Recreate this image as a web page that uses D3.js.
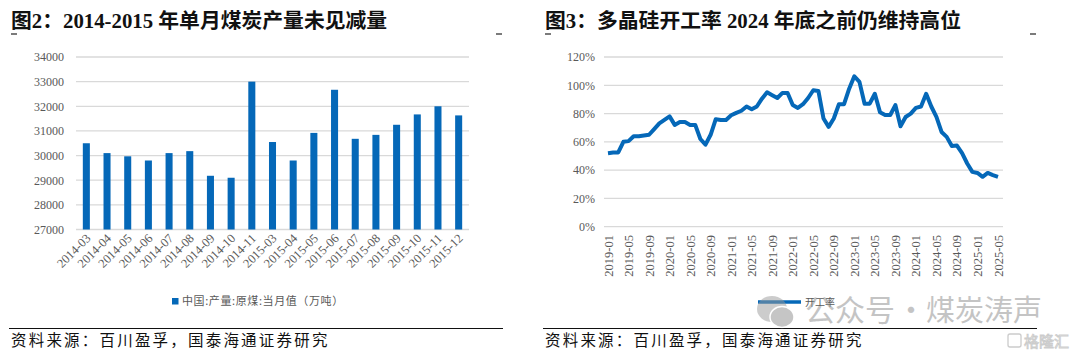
<!DOCTYPE html>
<html><head><meta charset="utf-8">
<script src="https://cdn.jsdelivr.net/npm/d3@7/dist/d3.min.js"></script>
<style>
body{margin:0;background:#fff;}
svg{display:block;}
</style></head>
<body>
<svg id="c" width="1080" height="355"></svg>
<script>
// ---- Data: left chart (coal output, 万吨) ----
const coalMonths = ["2014-03","2014-04","2014-05","2014-06","2014-07","2014-08","2014-09","2014-10","2014-11","2015-03","2015-04","2015-05","2015-06","2015-07","2015-08","2015-09","2015-10","2015-11","2015-12"];
const coalOutput = [30500,30100,29970,29800,30100,30180,29180,29100,33000,30550,29800,30920,32670,30680,30840,31250,31670,32000,31630];
const coalTicks = [27000,28000,29000,30000,31000,32000,33000,34000];

// ---- Data: right chart (polysilicon operating rate, %) ----
const siStart = [2019, 1];
const siRate = [52,52.5,52.5,60,60.5,64,64,64.5,65,69,73,75.5,78,72,74,74,72,72,62,58,65,76,75.5,75.5,78.8,80.5,82,85,83,85,90.5,95,93,91,94.6,94.6,86,84,86.6,91,96.5,96,76.5,70.6,76.5,86.6,86.6,97.6,106.4,102.4,87,87,94,81,79,79,86,71,77.6,80,84,85,94,85,77.6,67,63.5,57,57.4,52,44.7,38.8,38,35.3,38,36.5,35.3];
const siTicks = [0,0.2,0.4,0.6,0.8,1.0,1.2];

const blue = "#0568B8";
const grid = "#d9d9d9";
const tickGray = "#595959";
const serif = "'Liberation Serif','Times New Roman',serif";
const cjk = "'Liberation Serif','Noto Sans CJK SC',serif";
const sans = "'Noto Sans CJK SC',sans-serif";

const svg = d3.select("#c");

const siMonths = siRate.map((v,i)=>{
  const m = siStart[1]-1+i;
  const y = siStart[0]+Math.floor(m/12);
  const mm = (m%12)+1;
  return y+"-"+String(mm).padStart(2,"0");
});

function frame(x0, x1, title){
  svg.append("text").attr("x",x0+2).attr("y",28)
    .attr("font-family",cjk).attr("font-weight","bold").attr("font-size",20.8)
    .attr("fill","#111").text(title);
  svg.append("line").attr("x1",x0+2).attr("x2",x0+8).attr("y1",34).attr("y2",34).attr("stroke","#222").attr("stroke-width",1.2);
  svg.append("line").attr("x1",x1-7).attr("x2",x1-1).attr("y1",34).attr("y2",34).attr("stroke","#222").attr("stroke-width",1.2);
  svg.append("line").attr("x1",x0).attr("x2",x1).attr("y1",328.5).attr("y2",328.5).attr("stroke","#111").attr("stroke-width",1.2);
  svg.append("text").attr("x",x0+2).attr("y",346)
    .attr("font-family",sans).attr("font-size",15.5).attr("letter-spacing",2.2)
    .attr("fill","#111").text("资料来源：百川盈孚，国泰海通证券研究");
}

// ---------- Left chart ----------
frame(9, 503, "图2：2014-2015 年单月煤炭产量未见减量");
const xL = d3.scaleBand().domain(coalMonths).range([76,469]).paddingInner(0.66).paddingOuter(0.33);
const yL = d3.scaleLinear().domain([27000,34000]).range([229.5,57]);
const gL = svg.append("g");
gL.append("g").selectAll("line").data(coalTicks).join("line")
  .attr("x1",76).attr("x2",469).attr("y1",d=>yL(d)).attr("y2",d=>yL(d))
  .attr("stroke",grid).attr("stroke-width",1.3);
gL.append("g").selectAll("rect").data(coalOutput).join("rect")
  .attr("x",(d,i)=>xL(coalMonths[i])).attr("width",xL.bandwidth())
  .attr("y",d=>yL(d)).attr("height",d=>yL(27000)-yL(d)).attr("fill",blue);
const axL = gL.append("g").attr("transform","translate(64,0)")
  .call(d3.axisLeft(yL).tickValues(coalTicks).tickSize(0).tickPadding(0).tickFormat(d3.format("d")));
axL.select(".domain").remove();
axL.selectAll("text").attr("font-family",serif).attr("font-size",12).attr("fill",tickGray);
gL.append("g").selectAll("text").data(coalMonths).join("text")
  .attr("transform",d=>`translate(${xL(d)+xL.bandwidth()/2+5},${239}) rotate(-45)`)
  .attr("text-anchor","end").attr("font-family",serif).attr("font-size",12.5).attr("fill",tickGray)
  .text(d=>d);
gL.append("rect").attr("x",172).attr("y",298).attr("width",6.5).attr("height",6.5).attr("fill",blue);
gL.append("text").attr("x",182).attr("y",305).attr("font-family",sans)
  .attr("font-size",11).attr("letter-spacing",0.6).attr("fill",tickGray).text("中国:产量:原煤:当月值（万吨）");

// ---------- Right chart ----------
frame(543, 1037, "图3：多晶硅开工率 2024 年底之前仍维持高位");
const xR = d3.scalePoint().domain(siMonths).range([608,998]);
const yR = d3.scaleLinear().domain([0,1.2]).range([226.7,57]);
const gR = svg.append("g");
gR.append("g").selectAll("line").data(siTicks).join("line")
  .attr("x1",604).attr("x2",1003).attr("y1",d=>yR(d)).attr("y2",d=>yR(d))
  .attr("stroke",grid).attr("stroke-width",1.3);
const axR = gR.append("g").attr("transform","translate(595,0)")
  .call(d3.axisLeft(yR).tickValues(siTicks).tickSize(0).tickPadding(0).tickFormat(d3.format(".0%")));
axR.select(".domain").remove();
axR.selectAll("text").attr("font-family",serif).attr("font-size",12).attr("fill",tickGray);
const siLabelMonths = siMonths.filter((d,i)=>i%4===0);
gR.append("g").selectAll("text").data(siLabelMonths).join("text")
  .attr("transform",d=>`translate(${xR(d)+4.5},${235}) rotate(-90)`)
  .attr("text-anchor","end").attr("font-family",serif).attr("font-size",12.5).attr("fill",tickGray)
  .text(d=>d);
gR.append("path").datum(siRate)
  .attr("d",d3.line().x((d,i)=>xR(siMonths[i])).y(d=>yR(d/100)))
  .attr("fill","none").attr("stroke",blue).attr("stroke-width",4).attr("stroke-linejoin","round");

gR.append("line").attr("x1",758).attr("x2",801).attr("y1",302).attr("y2",302).attr("stroke",blue).attr("stroke-width",3.6);
gR.append("text").attr("x",805).attr("y",306).attr("font-family",sans)
  .attr("font-size",10).attr("fill",tickGray).text("开工率");

// watermark
const wm = svg.append("g").attr("opacity",0.5);
wm.append("ellipse").attr("cx",772).attr("cy",309).attr("rx",15).attr("ry",13).attr("fill","#9a9a9a");
wm.append("ellipse").attr("cx",782).attr("cy",317).attr("rx",12).attr("ry",10.5).attr("fill","#8c8c8c").attr("stroke","#fff").attr("stroke-width",1.5);
wm.append("text").attr("x",805).attr("y",321).attr("font-family",sans).attr("font-size",30).attr("fill","#8a8a8a").text("公众号");
wm.append("text").attr("x",911).attr("y",321).attr("text-anchor","middle").attr("font-family",sans).attr("font-size",30).attr("fill","#8a8a8a").text("·");
wm.append("text").attr("x",926).attr("y",321).attr("font-family",sans).attr("font-size",29).attr("fill","#8a8a8a").text("煤炭涛声");
wm.append("rect").attr("x",1008).attr("y",334).attr("width",13).attr("height",13).attr("rx",2).attr("fill","none").attr("stroke","#9a9a9a").attr("stroke-width",1.3);
wm.append("text").attr("x",1024).attr("y",347).attr("font-family",sans)
  .attr("font-size",15).attr("fill","none").attr("stroke","#9a9a9a").attr("stroke-width",0.9).text("格隆汇");
</script>
</body></html>
